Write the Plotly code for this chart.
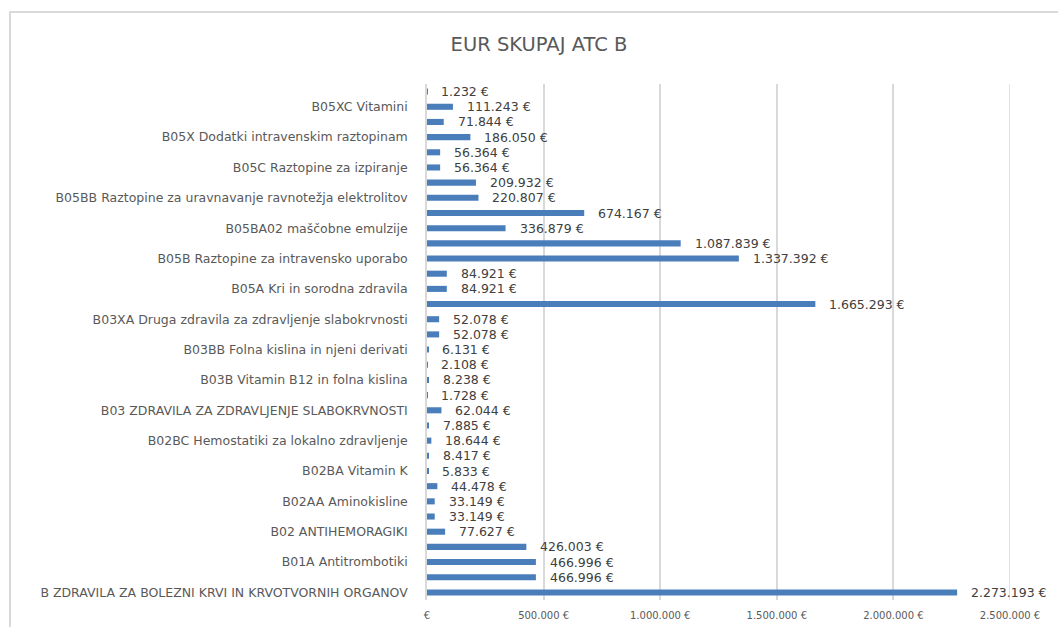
import plotly.graph_objects as go

# Values in EUR, listed from the top bar to the bottom bar
values = [
    1232, 111243, 71844, 186050, 56364, 56364, 209932, 220807,
    674167, 336879, 1087839, 1337392, 84921, 84921, 1665293, 52078,
    52078, 6131, 2108, 8238, 1728, 62044, 7885, 18644,
    8417, 5833, 44478, 33149, 33149, 77627, 426003, 466996,
    466996, 2273193,
]

# Category names shown on the axis (every second row, starting at row 1)
category_labels = [
    "B05XC Vitamini",
    "B05X Dodatki intravenskim raztopinam",
    "B05C Raztopine za izpiranje",
    "B05BB Raztopine za uravnavanje ravnotežja elektrolitov",
    "B05BA02 maščobne emulzije",
    "B05B Raztopine za intravensko uporabo",
    "B05A Kri in sorodna zdravila",
    "B03XA Druga zdravila za zdravljenje slabokrvnosti",
    "B03BB Folna kislina in njeni derivati",
    "B03B Vitamin B12 in folna kislina",
    "B03 ZDRAVILA ZA ZDRAVLJENJE SLABOKRVNOSTI",
    "B02BC Hemostatiki za lokalno zdravljenje",
    "B02BA Vitamin K",
    "B02AA Aminokisline",
    "B02 ANTIHEMORAGIKI",
    "B01A Antitrombotiki",
    "B ZDRAVILA ZA BOLEZNI KRVI IN KRVOTVORNIH ORGANOV",
]

x_tick_values = [0, 500000, 1000000, 1500000, 2000000, 2500000]
x_tick_labels = ["€", "500.000 €", "1.000.000 €", "1.500.000 €", "2.000.000 €", "2.500.000 €"]


def eur(v):
    return f"{v:,}".replace(",", ".") + " €"


rows = list(range(len(values)))
label_rows = rows[1::2]

W, H = 1058, 627
ML, MR, MT, MB = 427, 48, 84, 27
TEXT = "#595959"
GRID = "#d9d9d9"

fig = go.Figure(
    go.Bar(
        x=values,
        y=rows,
        orientation="h",
        width=0.4,
        marker=dict(color="#4a7ebb", line=dict(width=0)),
        hoverinfo="skip",
    )
)

for r, v in zip(rows, values):
    fig.add_annotation(
        x=v, y=r, xref="x", yref="y",
        text=eur(v), showarrow=False,
        xanchor="left", yanchor="middle", xshift=12,
        font=dict(family="DejaVu Sans", size=12.5, color="#404040"),
    )

# Outer chart frame
pw, ph = W - ML - MR, H - MT - MB
fig.add_shape(
    type="rect", xref="paper", yref="paper", layer="below",
    x0=(10 - ML) / pw, x1=(W + 20 - ML) / pw,
    y0=-(H + 20 - MT - ph) / ph, y1=(H - MB - 12) / ph,
    line=dict(color=GRID, width=2), fillcolor="rgba(0,0,0,0)",
)

# Right-most gridline at the end of the value axis
fig.add_shape(
    type="line", xref="x", yref="paper",
    x0=x_tick_values[-1], x1=x_tick_values[-1], y0=0, y1=1,
    line=dict(color=GRID, width=1.5), layer="below",
)

fig.update_layout(
    width=W, height=H,
    margin=dict(l=ML, r=MR, t=MT, b=MB, autoexpand=False),
    paper_bgcolor="white", plot_bgcolor="white",
    showlegend=False,
    title=dict(
        text="EUR SKUPAJ ATC B",
        x=539 / W, xanchor="center",
        y=1 - 44 / H, yanchor="middle",
        font=dict(family="DejaVu Sans", size=19.5, color=TEXT),
    ),
    xaxis=dict(
        range=[0, 2500000],
        tickvals=x_tick_values, ticktext=x_tick_labels,
        showgrid=True, gridcolor=GRID, gridwidth=1.5,
        zeroline=False, showline=False, ticks="",
        tickfont=dict(family="DejaVu Sans", size=10, color=TEXT),
        ticklabelstandoff=8, automargin=False,
        fixedrange=True,
    ),
    yaxis=dict(
        range=[len(values) - 0.5, -0.5],
        tickvals=label_rows, ticktext=category_labels,
        showgrid=False, zeroline=False,
        showline=True, linecolor=GRID, linewidth=1.5,
        ticks="", ticklabelstandoff=15, automargin=False,
        tickfont=dict(family="DejaVu Sans", size=12.5, color=TEXT),
        fixedrange=True,
    ),
)

fig.write_html("out.html")
